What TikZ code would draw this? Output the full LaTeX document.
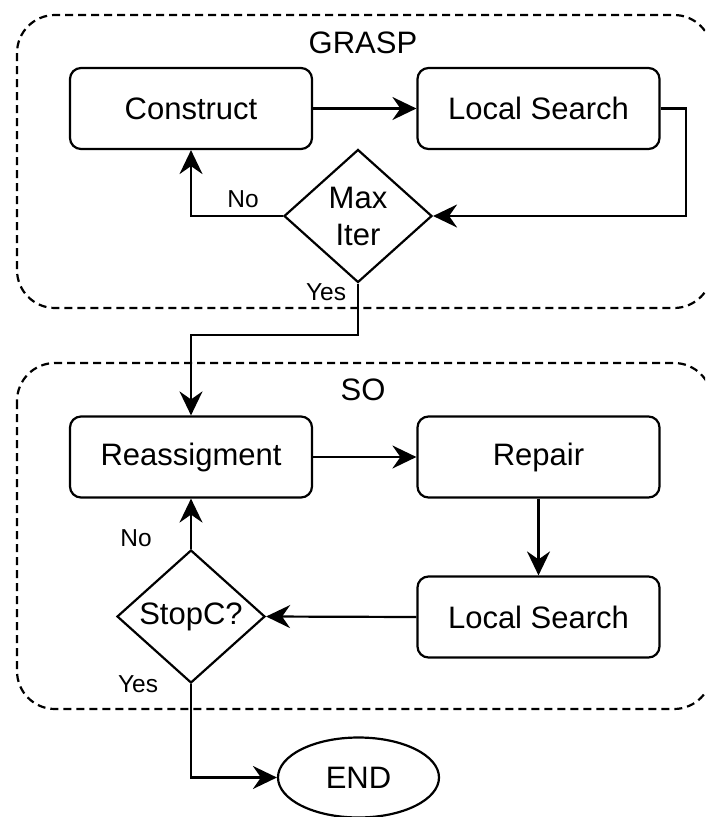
\documentclass[tikz,border=0pt]{standalone}
\usepackage{fontspec}
\setmainfont{Liberation Sans}
\usepackage{tikz}
\usetikzlibrary{positioning}
\usetikzlibrary{shapes.geometric}
\usetikzlibrary{arrows.meta}

\begin{document}
\begin{tikzpicture}[x=1pt,y=-1pt,line width=2.2pt,
        >={Stealth[length=24pt,width=23pt,inset=8pt]},
        group/.style={dashed,dash pattern=on 8pt off 5pt,rounded corners=38pt},
        block/.style={draw,rounded corners=11pt,minimum width=242pt,minimum height=81pt,inner sep=0pt,font=\fontsize{31}{37}\selectfont},
        decision/.style={draw,diamond,minimum width=148pt,minimum height=133pt,inner sep=0pt,align=center,font=\fontsize{31}{37}\selectfont},
        terminal/.style={draw,ellipse,minimum width=161pt,minimum height=80pt,inner sep=0pt,font=\fontsize{31}{37}\selectfont},
        title/.style={font=\fontsize{31}{37}\selectfont},
        answer/.style={font=\fontsize{24.5}{28}\selectfont}]
            \clip (0,0) rectangle (705,817);
            \draw[group] (17,15) rectangle (712,308);
            \node[title] (grasp) at (363,43) {GRASP};
            \draw[group] (17,363) rectangle (712,709);
            \node[title] (so) at (363,390) {SO};
            \node[block] (construct) at (191,108.5) {Construct};
            \node[block] (search1) at (538.5,108.5) {Local Search};
            \node[decision] (maxiter) at (358,216) {Max\\Iter};
            \node[block] (reassign) at (191,457) {Reassigment};
            \node[block] (repair) at (538.5,457) {Repair};
            \node[block] (search2) at (538.5,617) {Local Search};
            \node[decision] (stopc) at (191,616.5) {StopC?};
            \node[terminal] (end) at (358.5,777.5) {END};
            \node[answer] (no1) at (243,199) {No};
            \node[answer] (yes1) at (326,292) {Yes};
            \node[answer] (no2) at (136,538) {No};
            \node[answer] (yes2) at (138,684) {Yes};
            \coordinate (turn1) at (686,108.5);
            \coordinate (turn2) at (358,335);
            \draw[->] (construct) -- (search1);
            \draw[->] (search1.east) -- (turn1) |- (maxiter.east);
            \draw[->] (maxiter.west) -| (construct.south);
            \draw[->] (maxiter.south) -- (turn2) -| (reassign.north);
            \draw[->] (reassign) -- (repair);
            \draw[->] (repair) -- (search2);
            \draw[->] (search2.west) -- (stopc.east);
            \draw[->] (stopc.north) -- (reassign.south);
            \draw[->] (stopc.south) |- (end.west);
        \end{tikzpicture}
\end{document}
